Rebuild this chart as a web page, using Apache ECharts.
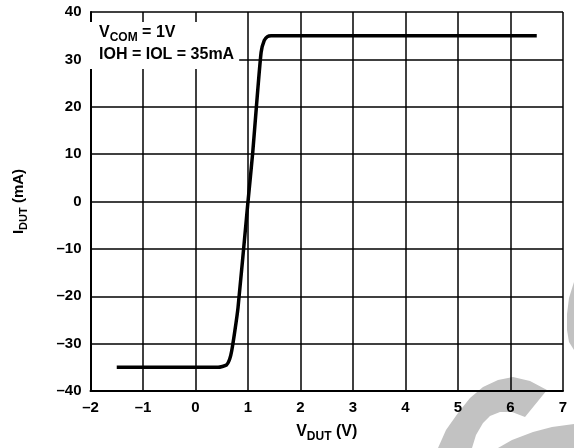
<!DOCTYPE html>
<html>
<head>
<meta charset="utf-8">
<script src="https://cdn.jsdelivr.net/npm/echarts@6/dist/echarts.min.js"></script>
<style>
  html, body { margin: 0; padding: 0; background: #fff; }
  #chart { width: 574px; height: 448px; }
</style>
</head>
<body>
<div id="chart"></div>
<script>
// V-I curve of the DUT
const vdut = [-1.5, 0.43, 0.59, 0.65, 0.69, 0.75, 0.81, 0.97, 1.0, 1.09, 1.16, 1.25, 1.31, 1.37, 1.44, 6.5];
const idut = [-35, -35, -34.5, -33.3, -31.5, -27.3, -22.4, -3.6, 0, 10.3, 20, 31.5, 34, 34.8, 35, 35];

const xTicks = [-2, 7, 1]; // min, max, step
const yTicks = [-40, 40, 10];

const font = "'Liberation Sans', Arial, sans-serif";

let myChart = echarts.init(document.getElementById("chart"));

// en dash for negatives like the datasheet
const fmt = (v) => (v < 0 ? "\u2013" + Math.abs(v) : "" + v);

const subRich = (size, sub) => ({
  a: { fontFamily: font, fontWeight: "bold", fontSize: size, color: "#000", lineHeight: 22 },
  s: { fontFamily: font, fontWeight: "bold", fontSize: sub, color: "#000", lineHeight: 12, padding: [10, 0, 0, 0] },
});

// grey watermark that sits behind the plot (decoration only)
const grey = "#c2c2c2";
const wm = (pts) => ({ type: "polygon", z: -10, silent: true, shape: { points: pts }, style: { fill: grey } });

myChart.setOption({
  animation: false,
  backgroundColor: "#fff",
  grid: { left: 83, right: 11, top: 12, bottom: 54 },
  xAxis: {
    type: "value",
    min: xTicks[0],
    max: xTicks[1],
    interval: xTicks[2],
    name: "{a|V}{s|DUT}{a| (V)}",
    nameLocation: "middle",
    nameGap: 30,
    nameTextStyle: { rich: subRich(16, 12) },
    axisLine: { onZero: false, lineStyle: { color: "#000", width: 2 } },
    axisTick: { show: false },
    splitLine: { lineStyle: { color: "#000", width: 1.5 } },
    axisLabel: { formatter: fmt, color: "#000", fontFamily: font, fontWeight: "bold", fontSize: 15, margin: 9 },
  },
  yAxis: {
    type: "value",
    min: yTicks[0],
    max: yTicks[1],
    interval: yTicks[2],
    name: "{a|I}{s|DUT}{a| (mA)}",
    nameLocation: "middle",
    nameRotate: 90,
    nameGap: 61,
    nameTextStyle: { rich: subRich(15, 11) },
    axisLine: { show: true, onZero: false, lineStyle: { color: "#000", width: 2 } },
    axisTick: { show: false },
    splitLine: { lineStyle: { color: "#000", width: 1.5 } },
    axisLabel: { formatter: fmt, color: "#000", fontFamily: font, fontWeight: "bold", fontSize: 15, margin: 9 },
  },
  graphic: [
    wm([[438, 448], [446, 430], [458, 413], [470, 398], [483, 387], [498, 380], [513, 377], [530, 381], [547, 390],
        [525, 417], [512, 412], [500, 412], [490, 416], [483, 423], [476, 435], [472, 448]]),
    wm([[498, 448], [512, 440], [533, 432], [552, 427], [574, 424], [574, 448]]),
    wm([[574, 282], [569, 298], [567, 314], [567, 330], [569, 342], [574, 350]]),
    {
      type: "text",
      left: 90,
      top: 22,
      z: 100,
      style: {
        text: "{a|V}{s|COM}{a| = 1V}\n{a|IOH = IOL = 35mA}",
        backgroundColor: "#fff",
        padding: [0, 5, 3, 9],
        rich: {
          a: { fontFamily: font, fontWeight: "bold", fontSize: 16, fill: "#000", lineHeight: 22 },
          s: { fontFamily: font, fontWeight: "bold", fontSize: 12, fill: "#000", lineHeight: 12, padding: [10, 0, 0, 0] },
        },
      },
    },
  ],
  series: [
    {
      type: "line",
      data: vdut.map((v, i) => [v, idut[i]]),
      showSymbol: false,
      smooth: 0.2,
      lineStyle: { color: "#000", width: 3.5 },
      z: 5,
    },
  ],
});
</script>
</body>
</html>
